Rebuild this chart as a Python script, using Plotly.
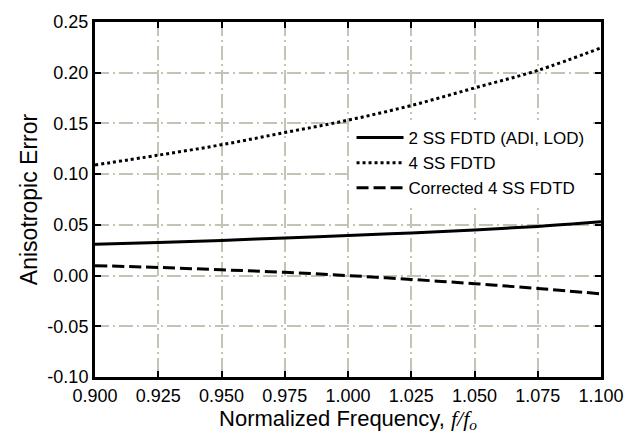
import plotly.graph_objects as go

# ---- data ----
freq = [0.900, 0.925, 0.950, 0.975, 1.000, 1.025, 1.050, 1.075, 1.100]
err_2ss = [0.031, 0.0325, 0.0347, 0.0370, 0.0395, 0.0420, 0.0450, 0.0485, 0.0530]
err_4ss = [0.109, 0.1187, 0.1290, 0.1410, 0.1532, 0.1677, 0.1850, 0.2023, 0.2245]
err_corr = [0.0098, 0.0080, 0.0057, 0.0032, 0.0000, -0.0038, -0.0080, -0.0127, -0.0180]

series_names = ["2 SS FDTD (ADI, LOD)", "4 SS FDTD", "Corrected 4 SS FDTD"]

x_ticks = [0.900, 0.925, 0.950, 0.975, 1.000, 1.025, 1.050, 1.075, 1.100]
x_ticklabels = ["0.900", "0.925", "0.950", "0.975", "1.000", "1.025", "1.050", "1.075", "1.100"]
y_ticks = [-0.10, -0.05, 0.00, 0.05, 0.10, 0.15, 0.20, 0.25]
y_ticklabels = ["-0.10", "-0.05", "0.00", "0.05", "0.10", "0.15", "0.20", "0.25"]

FONT = "Liberation Sans, Arial, sans-serif"
GRID = "#c4c4b4"

fig = go.Figure()
fig.add_trace(go.Scatter(x=freq, y=err_2ss, mode="lines", name=series_names[0],
                         line=dict(color="black", width=3, shape="spline")))
fig.add_trace(go.Scatter(x=freq, y=err_4ss, mode="lines", name=series_names[1],
                         line=dict(color="black", width=3, dash="dot", shape="spline")))
fig.add_trace(go.Scatter(x=freq, y=err_corr, mode="lines", name=series_names[2],
                         line=dict(color="black", width=3, dash="12px,5px", shape="spline")))

axis_common = dict(
    showline=True, linecolor="black", linewidth=3, mirror="ticks",
    ticks="inside", ticklen=6, tickwidth=1.5, tickcolor="black",
    showgrid=True, gridcolor=GRID, gridwidth=1.5, griddash="14px,4px,2px,4px",
    zeroline=False,
    tickfont=dict(family=FONT, size=18, color="black"),
)

fig.update_xaxes(range=[0.9, 1.1], tickvals=x_ticks, ticktext=x_ticklabels,
                 title=dict(text="Normalized Frequency, <span style=\"font-family:'Liberation Serif', 'Times New Roman', serif\"><i>f/f<sub>o</sub></i></span>",
                            font=dict(family=FONT, size=22, color="black"), standoff=6),
                 **axis_common)
fig.update_yaxes(range=[-0.1, 0.25], tickvals=y_ticks, ticktext=y_ticklabels,
                 title=dict(text="Anisotropic Error", font=dict(family=FONT, size=23, color="black"), standoff=4),
                 **axis_common)

fig.update_layout(
    width=641, height=443,
    margin=dict(l=95, r=40, t=13, b=66),
    paper_bgcolor="white", plot_bgcolor="white",
    showlegend=True,
    legend=dict(x=0.507, y=0.724, xanchor="left", yanchor="top",
                bgcolor="white", borderwidth=0,
                font=dict(family=FONT, size=17, color="black"),
                itemwidth=47, tracegroupgap=0),
)

fig.write_html("out.html")
